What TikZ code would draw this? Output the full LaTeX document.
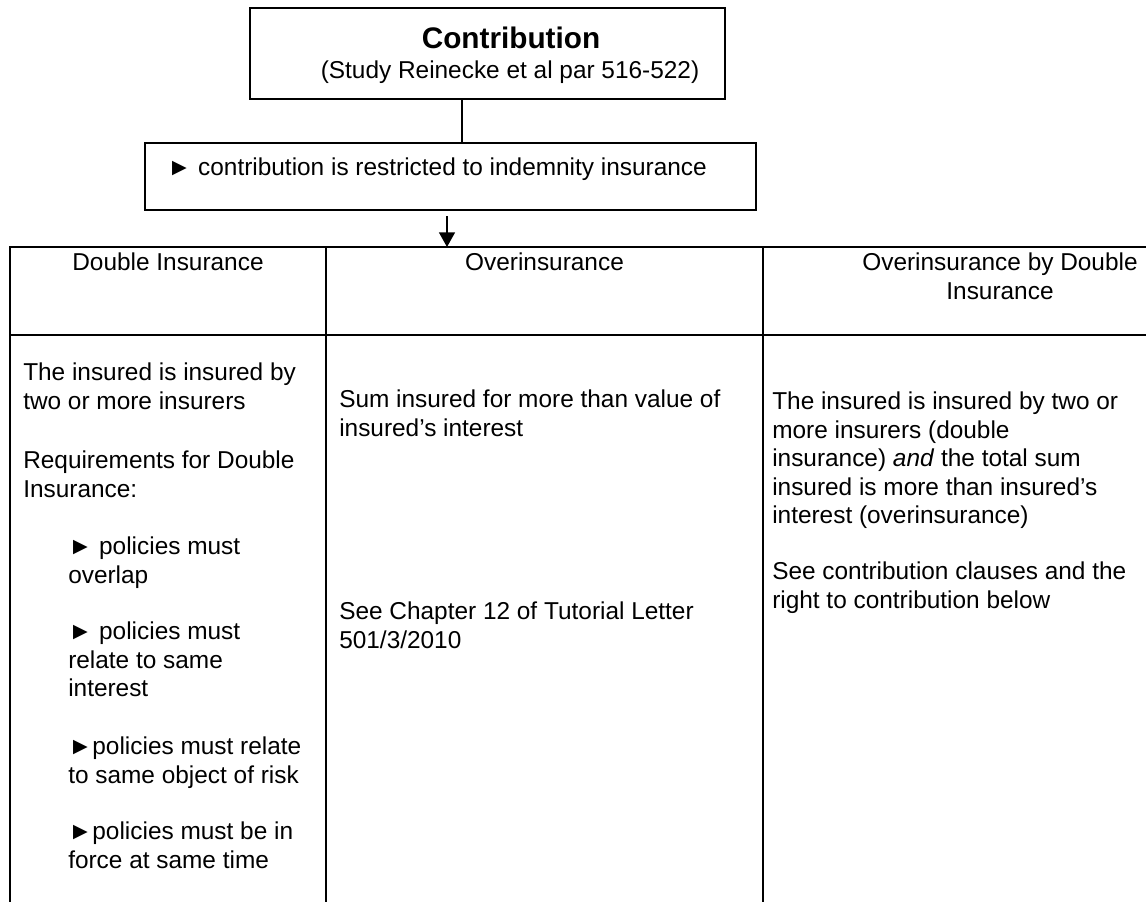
\documentclass[tikz,border=0pt]{standalone}
\usepackage{fontspec}
\setmainfont{Liberation Sans}
\usepackage{tikz}
\usetikzlibrary{arrows.meta}
\tikzset{
  boxline/.style={draw=black, line width=1.1pt},
  gridline/.style={draw=black, line width=1.5pt},
  framebox/.style={boxline, rectangle, inner sep=0pt},
  body/.style={font=\fontsize{18.3pt}{21.3pt}\selectfont, inner sep=0pt, anchor=north west, align=left},
  line/.style={font=\fontsize{18.3pt}{21.3pt}\selectfont, inner sep=0pt, anchor=base west},
  head/.style={font=\fontsize{18.3pt}{21.3pt}\selectfont, inner sep=0pt, anchor=north, align=center},
  ttlfont/.style={font=\fontsize{22.3pt}{26pt}\selectfont\bfseries, inner sep=0pt, anchor=base},
}

\begin{document}
\begin{tikzpicture}[x=0.75pt,y=-0.75pt]
  \useasboundingbox (0,0) rectangle (1146,902);

  \node[framebox, minimum width=356.25pt, minimum height=68.25pt] (top) at (487.5,53.5) {};
  \node[framebox, minimum width=458.25pt, minimum height=50.25pt] (restr) at (450.5,176.5) {};
  \node[ttlfont] (ttl) at (511,49) {Contribution};
  \node[line, anchor=base] (src) at (510,79) {(Study Reinecke et al par 516-522)};
  \node[line] (rtxt) at (167,176) {► contribution is restricted to indemnity insurance};

  \coordinate (lnk) at (462,0);
  \coordinate (arr) at (447,0);
  \coordinate (tab) at (0,247);
  \draw[boxline] (top.south -| lnk) -- (restr.north -| lnk);
  \draw[boxline, shorten <=4pt, -{Triangle[width=12pt,length=11pt]}] (restr.south -| arr) -- (tab -| arr);

  \draw[gridline] (10,902) |- (1146,247);
  \draw[gridline] (10,335) -- (1146,335);
  \foreach \x in {326,763}
    \draw[gridline] (\x,247) -- (\x,902);

  \node[head] (h1) at (168,253) {Double Insurance};
  \node[head] (h2) at (544.5,253) {Overinsurance};
  \node[head] (h3) at (1000,253) {Overinsurance by Double\\Insurance};

  \node[body] (d1) at (23,363) {The insured is insured by\\two or more insurers};
  \node[body] (d2) at (23,451) {Requirements for Double\\Insurance:};
  \node[body] (d3) at (68,537) {► policies must\\overlap};
  \node[body] (d4) at (68,622) {► policies must\\relate to same\\interest};
  \node[body] (d5) at (68,737) {►policies must relate\\to same object of risk};
  \node[body] (d6) at (68,822) {►policies must be in\\force at same time};

  \node[body] (o1) at (339,390) {Sum insured for more than value of\\insured’s interest};
  \node[body] (o2) at (339,602) {See Chapter 12 of Tutorial Letter\\501/3/2010};

  \node[body] (b1) at (772,392) {The insured is insured by two or\\more insurers (double\\insurance) \textit{and} the total sum\\insured is more than insured’s\\interest (overinsurance)};
  \node[body] (b2) at (772,562) {See contribution clauses and the\\right to contribution below};
\end{tikzpicture}
\end{document}
